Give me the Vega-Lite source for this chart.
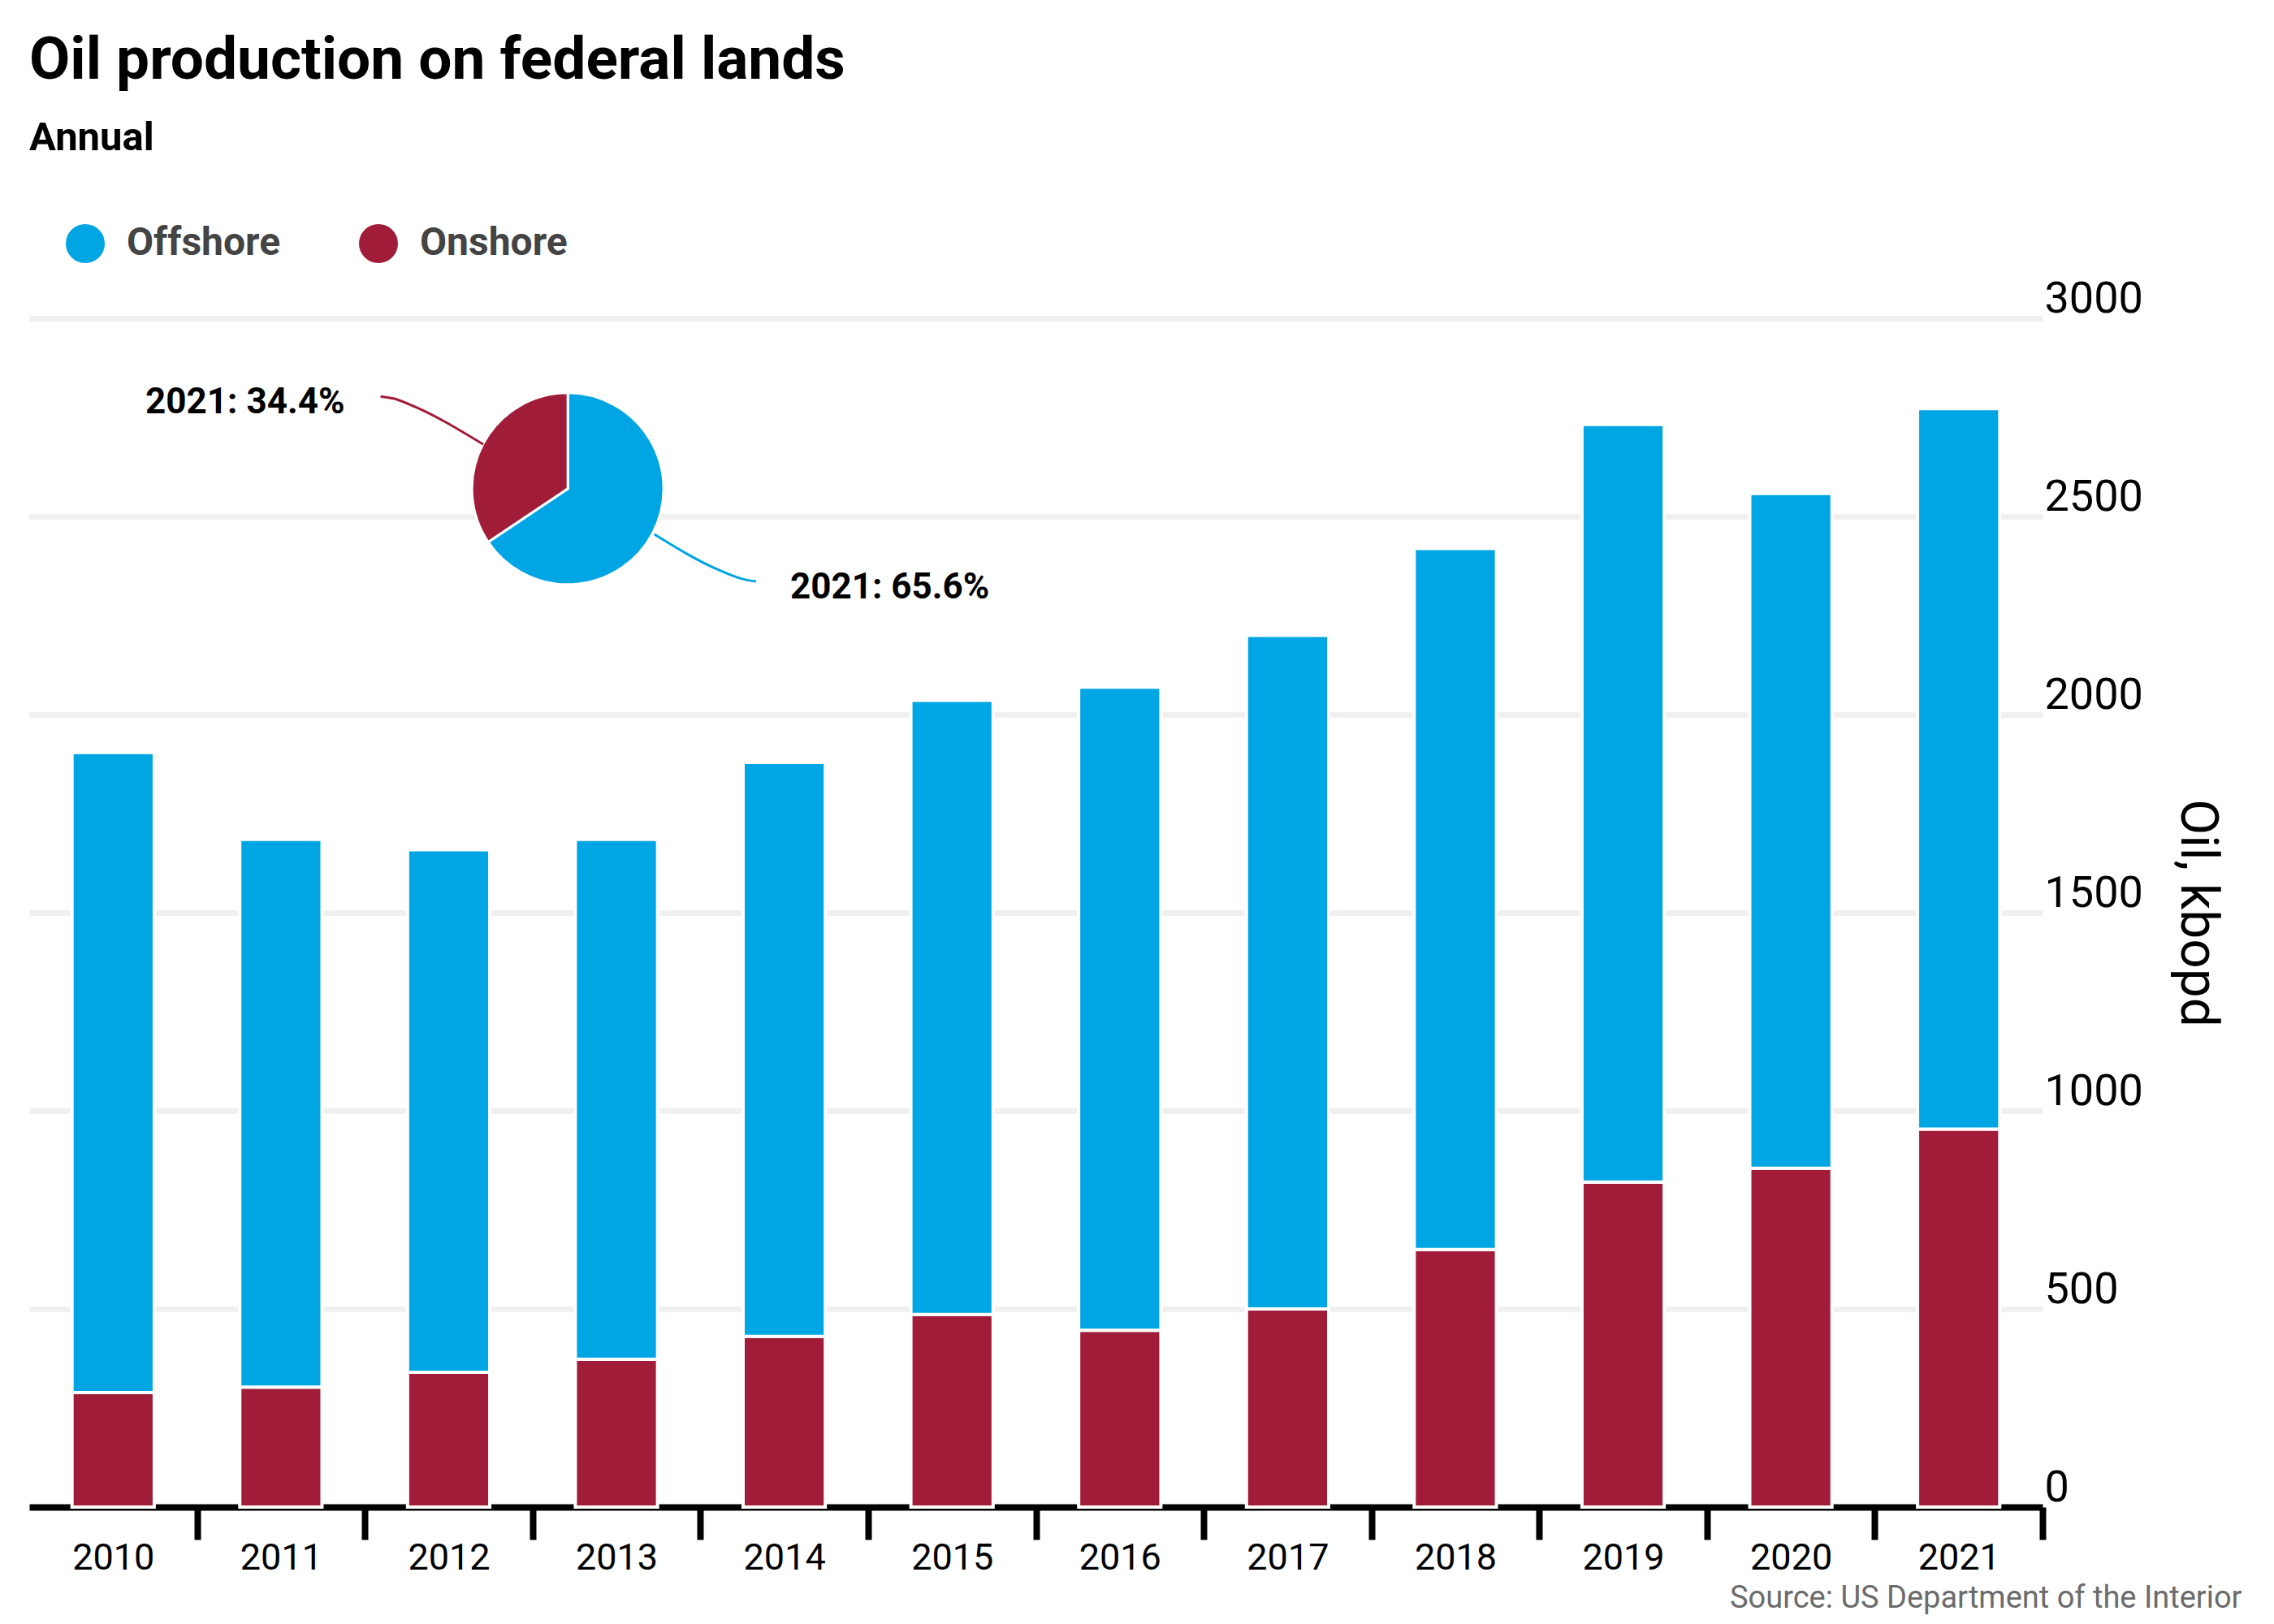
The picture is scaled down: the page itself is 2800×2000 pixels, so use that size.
{
  "$schema": "https://vega.github.io/schema/vega-lite/v6.json",
  "width": 2479,
  "height": 1464,
  "autosize": {"type": "none"},
  "padding": {"left": 36, "top": 392, "right": 285, "bottom": 144},
  "background": "white",
  "config": {"view": {"stroke": null}, "font": "Roboto"},
  "title": {
    "text": "Oil production on federal lands",
    "subtitle": "Annual",
    "anchor": "start",
    "frame": "group",
    "font": "Roboto",
    "fontSize": 73,
    "fontWeight": "bold",
    "color": "black",
    "subtitleFont": "Roboto",
    "subtitleFontSize": 49,
    "subtitleFontWeight": "bold",
    "subtitleColor": "black",
    "subtitlePadding": 34,
    "offset": 81
  },
  "layer": [
    {
      "data": {
        "values": [
          {"year": "2010", "type": "Onshore", "kbopd": 289},
          {"year": "2010", "type": "Offshore", "kbopd": 1615},
          {"year": "2011", "type": "Onshore", "kbopd": 303},
          {"year": "2011", "type": "Offshore", "kbopd": 1382},
          {"year": "2012", "type": "Onshore", "kbopd": 340},
          {"year": "2012", "type": "Offshore", "kbopd": 1319},
          {"year": "2013", "type": "Onshore", "kbopd": 373},
          {"year": "2013", "type": "Offshore", "kbopd": 1312},
          {"year": "2014", "type": "Onshore", "kbopd": 431},
          {"year": "2014", "type": "Offshore", "kbopd": 1448},
          {"year": "2015", "type": "Onshore", "kbopd": 486},
          {"year": "2015", "type": "Offshore", "kbopd": 1550},
          {"year": "2016", "type": "Onshore", "kbopd": 446},
          {"year": "2016", "type": "Offshore", "kbopd": 1623},
          {"year": "2017", "type": "Onshore", "kbopd": 500},
          {"year": "2017", "type": "Offshore", "kbopd": 1700},
          {"year": "2018", "type": "Onshore", "kbopd": 650},
          {"year": "2018", "type": "Offshore", "kbopd": 1769},
          {"year": "2019", "type": "Onshore", "kbopd": 820},
          {"year": "2019", "type": "Offshore", "kbopd": 1912},
          {"year": "2020", "type": "Onshore", "kbopd": 855},
          {"year": "2020", "type": "Offshore", "kbopd": 1703},
          {"year": "2021", "type": "Onshore", "kbopd": 954},
          {"year": "2021", "type": "Offshore", "kbopd": 1818}
        ]
      },
      "mark": {"type": "bar", "stroke": "white", "strokeWidth": 4},
      "encoding": {
        "x": {
          "field": "year",
          "type": "ordinal",
          "scale": {"paddingInner": 0.51, "paddingOuter": 0.255},
          "axis": {
            "title": "Source: US Department of the Interior",
            "titleAnchor": "end",
            "titleAlign": "right",
            "titleX": 2724,
            "titleY": 123,
            "titleBaseline": "alphabetic",
            "titleFont": "Roboto",
            "titleFontSize": 38,
            "titleFontWeight": "normal",
            "titleColor": "#6b6b6b",
            "labelAngle": 0,
            "labelFont": "Roboto",
            "labelFontSize": 45,
            "labelColor": "black",
            "labelBaseline": "alphabetic",
            "labelPadding": 36,
            "tickSize": 40,
            "tickWidth": 8,
            "tickColor": "black",
            "tickOffset": 103.3,
            "labelOffset": -103.3,
            "domainColor": "black",
            "domainWidth": 8,
            "grid": false
          }
        },
        "y": {
          "field": "kbopd",
          "type": "quantitative",
          "stack": "zero",
          "scale": {"domain": [0, 3000], "nice": false},
          "axis": {
            "orient": "right",
            "values": [0, 500, 1000, 1500, 2000, 2500, 3000],
            "format": "d",
            "title": "Oil, kbopd",
            "titleFont": "Roboto",
            "titleFontSize": 64,
            "titleFontWeight": "normal",
            "titleColor": "black",
            "titleAngle": 90,
            "titleAlign": "center",
            "titleBaseline": "alphabetic",
            "titleX": 170,
            "titleY": 732,
            "labelFont": "Roboto",
            "labelFontSize": 54,
            "labelColor": "black",
            "labelAlign": "left",
            "labelBaseline": "alphabetic",
            "labelOffset": -8,
            "labelPadding": 2,
            "ticks": false,
            "domain": false,
            "grid": true,
            "gridColor": "#f0f0f0",
            "gridWidth": 7
          }
        },
        "color": {
          "field": "type",
          "type": "nominal",
          "scale": {"domain": ["Offshore", "Onshore"], "range": ["#00A5E3", "#A11C38"]},
          "legend": {
            "orient": "none",
            "legendX": 45,
            "legendY": -116,
            "direction": "horizontal",
            "title": null,
            "symbolType": "circle",
            "symbolSize": 2304,
            "symbolStrokeWidth": 0,
            "symbolOpacity": 1,
            "labelFont": "Roboto",
            "labelFontSize": 48,
            "labelFontWeight": "bold",
            "labelColor": "#444444",
            "labelLimit": 1000,
            "labelOffset": 27,
            "columnPadding": 96
          }
        },
        "order": {"field": "type", "sort": "descending"}
      }
    },
    {
      "layer": [
        {
          "data": {"values": [{"type": "Offshore", "share": 65.6}, {"type": "Onshore", "share": 34.4}]},
          "mark": {"type": "arc", "outerRadius": 118, "stroke": "white", "strokeWidth": 3},
          "encoding": {
            "theta": {"field": "share", "type": "quantitative"},
            "color": {"field": "type", "type": "nominal", "legend": null},
            "x": {"datum": 0.2675, "type": "quantitative", "scale": {"domain": [0, 1]}, "axis": null},
            "y": {"datum": 2570, "type": "quantitative", "scale": {"domain": [0, 3000], "nice": false}}
          }
        },
        {
          "data": {
            "values": [
              {"type": "Onshore", "fx": 0.1745, "kbopd": 2803},
              {"type": "Onshore", "fx": 0.1814, "kbopd": 2797},
              {"type": "Onshore", "fx": 0.1887, "kbopd": 2783},
              {"type": "Onshore", "fx": 0.2255, "kbopd": 2682},
              {"type": "Offshore", "fx": 0.3105, "kbopd": 2455},
              {"type": "Offshore", "fx": 0.3425, "kbopd": 2365},
              {"type": "Offshore", "fx": 0.3545, "kbopd": 2342},
              {"type": "Offshore", "fx": 0.3610, "kbopd": 2336}
            ]
          },
          "mark": {"type": "line", "strokeWidth": 3, "interpolate": "monotone"},
          "encoding": {
            "x": {"field": "fx", "type": "quantitative", "scale": {"domain": [0, 1]}, "axis": null},
            "y": {"field": "kbopd", "type": "quantitative", "scale": {"domain": [0, 3000], "nice": false}},
            "color": {"field": "type", "type": "nominal", "legend": null}
          }
        },
        {
          "data": {"values": [{"type": "Onshore", "label": "2021: 34.4%", "share": 34.4}]},
          "mark": {"type": "text", "align": "right", "baseline": "middle", "font": "Roboto", "fontSize": 44, "fontWeight": "bold", "color": "black"},
          "encoding": {
            "text": {"field": "label", "type": "nominal"},
            "x": {"datum": 0.1567, "type": "quantitative", "scale": {"domain": [0, 1]}, "axis": null},
            "y": {"datum": 2787, "type": "quantitative", "scale": {"domain": [0, 3000], "nice": false}}
          }
        },
        {
          "data": {"values": [{"type": "Offshore", "label": "2021: 65.6%", "share": 65.6}]},
          "mark": {"type": "text", "align": "left", "baseline": "middle", "font": "Roboto", "fontSize": 44, "fontWeight": "bold", "color": "black"},
          "encoding": {
            "text": {"field": "label", "type": "nominal"},
            "x": {"datum": 0.3780, "type": "quantitative", "scale": {"domain": [0, 1]}, "axis": null},
            "y": {"datum": 2320, "type": "quantitative", "scale": {"domain": [0, 3000], "nice": false}}
          }
        }
      ]
    }
  ],
  "resolve": {"scale": {"x": "independent"}}
}
